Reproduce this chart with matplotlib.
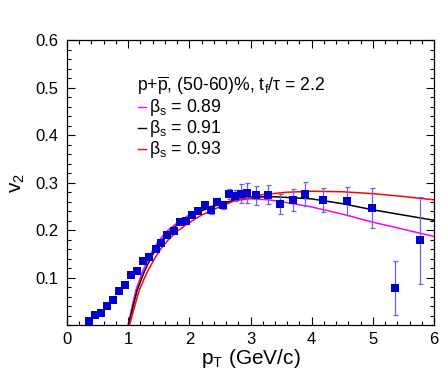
import matplotlib
matplotlib.use("Agg")
import matplotlib.pyplot as plt
from matplotlib.ticker import MultipleLocator
from matplotlib.lines import Line2D

plt.rcParams['font.family'] = ['Liberation Sans', 'DejaVu Sans']
plt.rcParams['mathtext.fontset'] = 'custom'
plt.rcParams['mathtext.rm'] = 'Liberation Sans'
plt.rcParams['mathtext.it'] = 'Liberation Sans'
plt.rcParams['mathtext.bf'] = 'Liberation Sans:bold'

# ---- data ----
pt = [0.36, 0.45, 0.55, 0.65, 0.75, 0.85, 0.95, 1.04, 1.15, 1.25, 1.34, 1.45, 1.54,
      1.64, 1.75, 1.84, 1.94, 2.04, 2.14, 2.25, 2.35, 2.45, 2.55, 2.65, 2.75, 2.84,
      2.94, 3.09, 3.29, 3.49, 3.69, 3.89, 4.18, 4.57, 4.98, 5.37, 5.77]
v2 = [0.010, 0.021, 0.027, 0.040, 0.054, 0.072, 0.084, 0.107, 0.114, 0.135, 0.144,
      0.161, 0.173, 0.191, 0.199, 0.217, 0.219, 0.233, 0.240, 0.253, 0.242, 0.260,
      0.253, 0.276, 0.273, 0.277, 0.278, 0.274, 0.275, 0.255, 0.263, 0.277, 0.263,
      0.262, 0.247, 0.078, 0.179]
v2_err = [0.003, 0.003, 0.003, 0.003, 0.003, 0.003, 0.003, 0.003, 0.003, 0.003, 0.003,
          0.004, 0.004, 0.004, 0.004, 0.004, 0.004, 0.004, 0.005, 0.005, 0.008, 0.007,
          0.008, 0.011, 0.011, 0.020, 0.021, 0.020, 0.020, 0.021, 0.023, 0.025, 0.025,
          0.030, 0.042, 0.057, 0.091]

# model curves
x_089 = [1.00, 1.06, 1.126, 1.23, 1.343, 1.42, 1.506, 1.64, 1.79, 1.97, 2.17, 2.45,
         2.70, 3.00, 3.30, 3.60, 4.00, 4.50, 5.00, 5.50, 6.00]
y_089 = [0.000, 0.037, 0.074, 0.112, 0.144, 0.162, 0.179, 0.199, 0.2145, 0.230, 0.242,
         0.254, 0.262, 0.266, 0.264, 0.258, 0.249, 0.234, 0.217, 0.202, 0.187]
x_091 = [1.00, 1.07, 1.147, 1.26, 1.38, 1.46, 1.545, 1.68, 1.83, 2.00, 2.22, 2.50,
         2.80, 3.00, 3.30, 3.60, 4.00, 4.50, 5.00, 5.50, 6.00]
y_091 = [0.000, 0.035, 0.074, 0.112, 0.144, 0.162, 0.179, 0.198, 0.2145, 0.229, 0.242,
         0.255, 0.265, 0.269, 0.271, 0.269, 0.266, 0.256, 0.243, 0.232, 0.221]
x_093 = [1.02, 1.10, 1.18, 1.31, 1.447, 1.54, 1.65, 1.80, 1.98, 2.20, 2.42, 2.70,
         2.93, 3.20, 3.60, 4.00, 4.50, 5.00, 5.50, 6.00]
y_093 = [0.000, 0.037, 0.074, 0.112, 0.144, 0.162, 0.179, 0.198, 0.2145, 0.232, 0.245,
         0.260, 0.268, 0.275, 0.280, 0.282, 0.281, 0.277, 0.271, 0.264]

curve_labels = ['0.89', '0.91', '0.93']
curve_colors = ['#ff00ff', '#000000', '#ff0000']

W, H = 448, 383
fig = plt.figure(figsize=(W / 100, H / 100), dpi=100)
L, R, T, B = 67, 434, 40, 325.4
ax = fig.add_axes([L / W, 1 - B / H, (R - L) / W, (B - T) / H])

for xs, ys, c in zip([x_089, x_091, x_093], [y_089, y_091, y_093], curve_colors):
    ax.plot(xs, ys, color=c, lw=1.1, zorder=2)

ax.errorbar(pt, v2, yerr=v2_err, fmt='none', ecolor='#6464e8', elinewidth=0.9,
            capsize=1.8, capthick=0.9, zorder=3)
ax.plot(pt, v2, 's', color='#0000cc', markersize=6.2, markeredgewidth=0, zorder=4)

ax.set_xlim(0, 6)
ax.set_ylim(0, 0.6)
ax.xaxis.set_major_locator(MultipleLocator(1))
ax.xaxis.set_minor_locator(MultipleLocator(0.2))
ax.yaxis.set_major_locator(MultipleLocator(0.1))
ax.yaxis.set_minor_locator(MultipleLocator(0.02))
ax.tick_params(which='both', direction='in', top=True, right=True, labelsize=12,
               width=0.8)
ax.tick_params(which='major', length=6)
ax.tick_params(which='minor', length=3)
ax.tick_params(axis='x', pad=5)
ax.tick_params(axis='y', pad=6)
ax.set_yticks([0.1, 0.2, 0.3, 0.4, 0.5, 0.6])
for s in ax.spines.values():
    s.set_linewidth(0.9)

ax.set_xlabel(r'p$_{\rm T}$ (GeV/c)', fontsize=15, labelpad=0)
ax.set_ylabel(r'v$_{\rm 2}$', fontsize=15, labelpad=6)

def fx(px):
    return px / W

def fy(py):
    return 1 - py / H

fs = 12.7
fig.text(fx(137), fy(91), r'p+$\overline{\rm p}$, (50-60)%, t$_{\rm f}$/τ = 2.2',
         fontsize=fs, ha='left', va='baseline')
for i, (lab, c) in enumerate(zip(curve_labels, curve_colors)):
    base = 112 + 21 * i
    fig.text(fx(149), fy(base), r'β$_{\rm s}$ = ' + lab, fontsize=fs,
             ha='left', va='baseline')
    fig.add_artist(Line2D([fx(138), fx(146)], [fy(base - 5.5), fy(base - 5.5)],
                          color=c, lw=1.0, transform=fig.transFigure))

fig.savefig('out.png', dpi=100)
